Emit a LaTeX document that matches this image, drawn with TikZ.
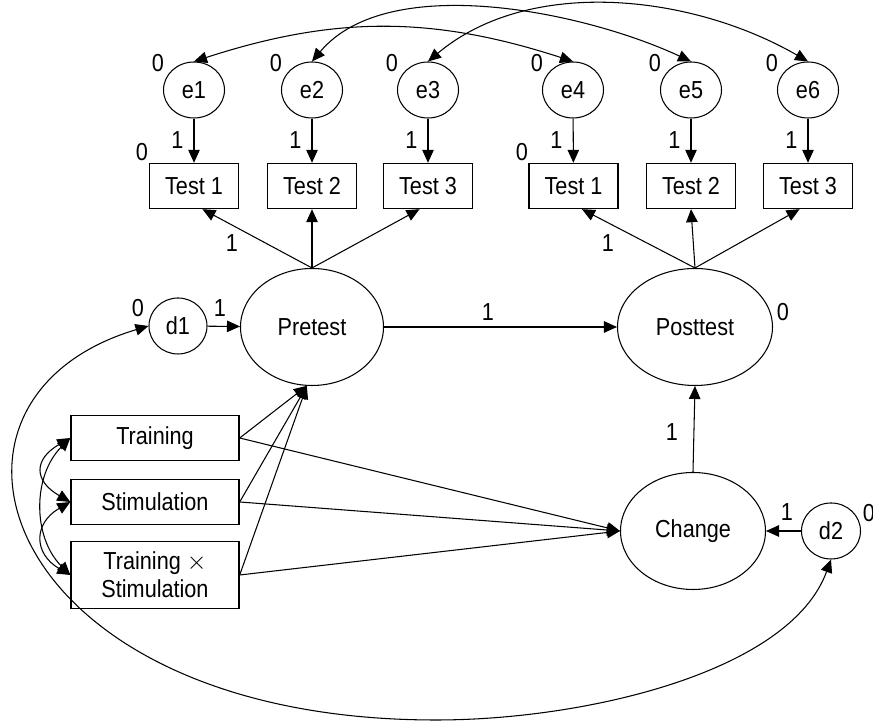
\documentclass[tikz,border=0pt]{standalone}
\usepackage{fontspec}
\setmainfont[FakeStretch=0.88]{Liberation Sans}
\usetikzlibrary{arrows.meta,shapes.geometric}

\begin{document}
\begin{tikzpicture}[line width=0.6pt,
  >={Triangle[length=2.6mm,width=2.3mm]},
  every node/.style={font=\fontsize{14}{16}\selectfont},
  latent/.style={draw, ellipse, inner sep=0pt, minimum width=2.9cm, minimum height=2.34cm},
  err/.style={draw, ellipse, inner sep=0pt, minimum width=1.22cm, minimum height=1.12cm},
  observed/.style={draw, rectangle, inner sep=0pt, line width=0.8pt, minimum width=1.78cm, minimum height=0.9cm},
  factor/.style={draw, rectangle, inner sep=0pt, line width=0.8pt, minimum width=3.36cm, minimum height=0.9cm, align=center},
  lbl/.style={inner sep=0pt}]
\useasboundingbox (0,0) rectangle (17.46,14.44);
% measurement errors
\node[err] (e1) at (3.88, 12.64) {e1};
\node[err] (e2) at (6.24, 12.64) {e2};
\node[err] (e3) at (8.56, 12.64) {e3};
\node[err] (e4) at (11.46, 12.64) {e4};
\node[err] (e5) at (13.82, 12.64) {e5};
\node[err] (e6) at (16.16, 12.64) {e6};
% tests
\node[observed] (ta1) at (3.88, 10.72) {Test 1};
\node[observed] (ta2) at (6.24, 10.72) {Test 2};
\node[observed] (ta3) at (8.56, 10.72) {Test 3};
\node[observed] (tb1) at (11.47, 10.72) {Test 1};
\node[observed] (tb2) at (13.82, 10.72) {Test 2};
\node[observed] (tb3) at (16.16, 10.72) {Test 3};
% latent variables
\node[latent, minimum width=2.86cm] (pre) at (6.24, 7.9) {Pretest};
\node[latent, minimum width=3.1cm] (post) at (13.9, 7.9) {Posttest};
\node[latent] (chg) at (13.86, 3.82) {Change};
\node[err, minimum width=1.16cm] (d1) at (3.56, 7.92) {d1};
\node[err, minimum width=1.18cm] (d2) at (16.62, 3.82) {d2};
% predictors
\node[factor] (trn) at (3.1, 5.68) {Training};
\node[factor] (stim) at (3.1, 4.4) {Stimulation};
\node[factor, minimum height=1.34cm] (inter) at (3.1, 2.94) {Training $\times$\\Stimulation};

\draw[->] (e1) -- (ta1);
\draw[->] (e2) -- (ta2);
\draw[->] (e3) -- (ta3);
\draw[->] (e4) -- (tb1);
\draw[->] (e5) -- (tb2);
\draw[->] (e6) -- (tb3);
\draw[<->] (e1.north) to[bend left=18] (e4.north);
\draw[<->] (e2.north) to[out=50, in=155, looseness=0.8] (e5.north);
\draw[<->] (e3.north) to[out=40, in=150, looseness=0.9] (e6.north);

\draw[->] (pre.north) -- (ta1.-70);
\draw[->] (pre.north) -- (ta2.south);
\draw[->] (pre.north) -- (ta3.-110);
\draw[->] (post.north) -- (tb1.-70);
\draw[->] (post.north) -- (tb2.south);
\draw[->] (post.north) -- (tb3.-110);

\draw[->] (d1) -- (pre);
\draw[->] (pre) -- (post);
\draw[->] (chg.north) -- (post.south);
\draw[->] (d2) -- (chg);

\draw[->] (trn.east) -- (pre.265);
\draw[->] (stim.east) -- (pre.265);
\draw[->] (inter.east) -- (pre.265);
\draw[->] (trn.east) -- (chg.west);
\draw[->] (stim.east) -- (chg.west);
\draw[->] (inter.east) -- (chg.west);

\draw[<->] (trn.west) to[out=210, in=150, looseness=1.7] (stim.west);
\draw[<->] (trn.west) to[out=225, in=135] (inter.west);
\draw[<->] (stim.west) to[out=210, in=150, looseness=1.5] (inter.west);

% disturbance covariance
\coordinate (low) at (8.72, 0.04);
\draw[<->] (d2.south) .. controls (15.8, 1.0) and (11.72, 0.04) .. (low)
  .. controls (0, 0.04) and (-2, 6.44) .. (d1.west);

% labels
\node[lbl] (z1) at (3.16, 13.18) {0};
\node[lbl] (z2) at (5.52, 13.18) {0};
\node[lbl] (z3) at (7.84, 13.18) {0};
\node[lbl] (z4) at (10.74, 13.18) {0};
\node[lbl] (z5) at (13.1, 13.18) {0};
\node[lbl] (z6) at (15.44, 13.18) {0};
\node[lbl] (o1) at (3.55, 11.64) {1};
\node[lbl] (o2) at (5.91, 11.64) {1};
\node[lbl] (o3) at (8.23, 11.64) {1};
\node[lbl] (o4) at (11.13, 11.64) {1};
\node[lbl] (o5) at (13.49, 11.64) {1};
\node[lbl] (o6) at (15.83, 11.64) {1};
\node[lbl] (za) at (2.84, 11.4) {0};
\node[lbl] (zb) at (10.44, 11.4) {0};
\node[lbl] (la) at (4.64, 9.58) {1};
\node[lbl] (lb) at (12.16, 9.58) {1};
\node[lbl] (zd1) at (2.76, 8.28) {0};
\node[lbl] (od1) at (4.4, 8.28) {1};
\node[lbl] (opp) at (9.76, 8.2) {1};
\node[lbl] (zpost) at (15.66, 8.2) {0};
\node[lbl] (ochg) at (13.44, 5.8) {1};
\node[lbl] (od2) at (15.74, 4.2) {1};
\node[lbl] (zd2) at (17.38, 4.18) {0};
\end{tikzpicture}
\end{document}
